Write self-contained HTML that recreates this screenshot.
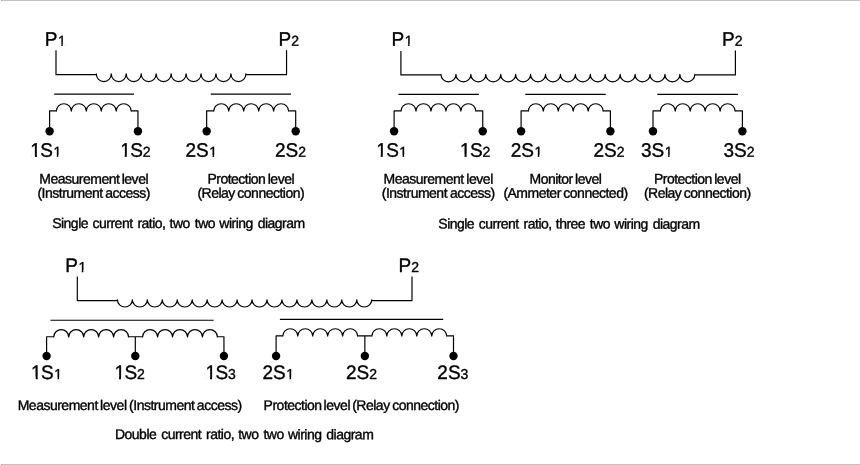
<!DOCTYPE html>
<html lang="en">
<head>
<meta charset="utf-8">
<title>Current transformer wiring diagrams</title>
<style>
html,body{margin:0;padding:0;background:#fff;}
body{width:860px;height:465px;overflow:hidden;position:relative;}
svg{display:block;position:absolute;left:0;top:0;will-change:transform;}
text{white-space:pre;font-family:"Liberation Sans",Arial,Helvetica,sans-serif;fill:#000;stroke:#000;stroke-width:0.36px;text-rendering:geometricPrecision;}
.b{font-size:19px;}
.s{font-size:14px;}
.l{font-size:14px;letter-spacing:-0.5px;}
.c{font-size:14px;letter-spacing:-0.52px;}
.w path{fill:none;stroke:#000;stroke-width:1.18;stroke-linejoin:round;}
.w path.k{stroke-width:1.25;}
</style>
</head>
<body>
<svg width="860" height="465" viewBox="0 0 860 465">
<rect x="0" y="0" width="860" height="465" fill="#fff"/>
<rect x="1" y="0" width="859" height="1" fill="#c2c2c2"/>
<rect x="1" y="464" width="859" height="1" fill="#c2c2c2"/>
<rect x="1" y="0" width="1" height="1" fill="#a0a0a0"/>
<rect x="1" y="464" width="1" height="1" fill="#a0a0a0"/>
<g class="w">
<path d="M56.0,50.2V74.7H96.3V73.80a7.480,7.8 0 0 0 14.960,0a7.480,7.8 0 0 0 14.960,0a7.480,7.8 0 0 0 14.960,0a7.480,7.8 0 0 0 14.960,0a7.480,7.8 0 0 0 14.960,0a7.480,7.8 0 0 0 14.960,0a7.480,7.8 0 0 0 14.960,0a7.480,7.8 0 0 0 14.960,0a7.480,7.8 0 0 0 14.960,0a7.480,7.8 0 0 0 14.960,0V74.7H286.55V50.2"/>
<path class="k" d="M54.25,94H134"/>
<path class="k" d="M210.75,94H291"/>
<path d="M49.6,131.2V110.85H56.375V111.05a7.480,7.3 0 0 1 14.960,0a7.480,7.3 0 0 1 14.960,0a7.480,7.3 0 0 1 14.960,0a7.480,7.3 0 0 1 14.960,0a7.480,7.3 0 0 1 14.960,0V110.85H137.95V131.2"/>
<path d="M206.65,131.2V110.85H213.775V111.05a7.480,7.3 0 0 1 14.960,0a7.480,7.3 0 0 1 14.960,0a7.480,7.3 0 0 1 14.960,0a7.480,7.3 0 0 1 14.960,0a7.480,7.3 0 0 1 14.960,0V110.85H295.7V131.2"/>
<path d="M400.9,51.0V74.9H441.0V74.45a7.465,7.4 0 0 0 14.930,0a7.465,7.4 0 0 0 14.930,0a7.465,7.4 0 0 0 14.930,0a7.465,7.4 0 0 0 14.930,0a7.465,7.4 0 0 0 14.930,0a7.465,7.4 0 0 0 14.930,0a7.465,7.4 0 0 0 14.930,0a7.465,7.4 0 0 0 14.930,0a7.465,7.4 0 0 0 14.930,0a7.465,7.4 0 0 0 14.930,0a7.465,7.4 0 0 0 14.930,0a7.465,7.4 0 0 0 14.930,0a7.465,7.4 0 0 0 14.930,0a7.465,7.4 0 0 0 14.930,0a7.465,7.4 0 0 0 14.930,0a7.465,7.4 0 0 0 14.930,0a7.465,7.4 0 0 0 14.930,0V74.9H735.4V50.4"/>
<path class="k" style="stroke-width:1.2" d="M398.4,94.45H478.9"/>
<path class="k" style="stroke-width:1.2" d="M525.3,94.45H605.7"/>
<path class="k" style="stroke-width:1.2" d="M657.3,94.45H737.9"/>
<path d="M394.1,131.2V110.85H401.025V111.05a7.480,7.3 0 0 1 14.960,0a7.480,7.3 0 0 1 14.960,0a7.480,7.3 0 0 1 14.960,0a7.480,7.3 0 0 1 14.960,0a7.480,7.3 0 0 1 14.960,0V110.85H482.75V131.2"/>
<path d="M521.1,131.2V110.85H528.350V111.05a7.480,7.3 0 0 1 14.960,0a7.480,7.3 0 0 1 14.960,0a7.480,7.3 0 0 1 14.960,0a7.480,7.3 0 0 1 14.960,0a7.480,7.3 0 0 1 14.960,0V110.85H610.4V131.2"/>
<path d="M653,131.2V110.85H660.300V111.05a7.480,7.3 0 0 1 14.960,0a7.480,7.3 0 0 1 14.960,0a7.480,7.3 0 0 1 14.960,0a7.480,7.3 0 0 1 14.960,0a7.480,7.3 0 0 1 14.960,0V110.85H742.4V131.2"/>
<path d="M77.3,276.5V300.6H117.4V299.75a7.480,7.25 0 0 0 14.960,0a7.480,7.25 0 0 0 14.960,0a7.480,7.25 0 0 0 14.960,0a7.480,7.25 0 0 0 14.960,0a7.480,7.25 0 0 0 14.960,0a7.480,7.25 0 0 0 14.960,0a7.480,7.25 0 0 0 14.960,0a7.480,7.25 0 0 0 14.960,0a7.480,7.25 0 0 0 14.960,0a7.480,7.25 0 0 0 14.960,0a7.480,7.25 0 0 0 14.960,0a7.480,7.25 0 0 0 14.960,0a7.480,7.25 0 0 0 14.960,0a7.480,7.25 0 0 0 14.960,0a7.480,7.25 0 0 0 14.960,0a7.480,7.25 0 0 0 14.960,0a7.480,7.25 0 0 0 14.960,0V300.6H412V276.5"/>
<path class="k" style="stroke-width:1.1" d="M50.4,320.25H213.7"/>
<path class="k" style="stroke-width:1.25" d="M279.9,319.3H443.2"/>
<path d="M46.6,356V336.75H53.750V336.95a7.480,7.3 0 0 1 14.960,0a7.480,7.3 0 0 1 14.960,0a7.480,7.3 0 0 1 14.960,0a7.480,7.3 0 0 1 14.960,0a7.480,7.3 0 0 1 14.960,0V336.75H142.600V336.95a7.480,7.3 0 0 1 14.960,0a7.480,7.3 0 0 1 14.960,0a7.480,7.3 0 0 1 14.960,0a7.480,7.3 0 0 1 14.960,0a7.480,7.3 0 0 1 14.960,0V336.75H223.95V356M135.3,336.75V356"/>
<path d="M276.1,356V335.85H282.800V336.05a7.480,7.3 0 0 1 14.960,0a7.480,7.3 0 0 1 14.960,0a7.480,7.3 0 0 1 14.960,0a7.480,7.3 0 0 1 14.960,0a7.480,7.3 0 0 1 14.960,0V335.85H371.900V336.05a7.480,7.3 0 0 1 14.960,0a7.480,7.3 0 0 1 14.960,0a7.480,7.3 0 0 1 14.960,0a7.480,7.3 0 0 1 14.960,0a7.480,7.3 0 0 1 14.960,0V335.85H453.5V356M364.85,335.85V356"/>
</g>
<g fill="#000">
<circle cx="49.6" cy="131.2" r="4.2"/>
<circle cx="137.95" cy="131.2" r="4.2"/>
<circle cx="206.65" cy="131.2" r="4.2"/>
<circle cx="295.7" cy="131.2" r="4.2"/>
<circle cx="394.1" cy="131.2" r="4.2"/>
<circle cx="482.75" cy="131.2" r="4.2"/>
<circle cx="521.1" cy="131.2" r="4.2"/>
<circle cx="610.4" cy="131.2" r="4.2"/>
<circle cx="653" cy="131.2" r="4.2"/>
<circle cx="742.4" cy="131.2" r="4.2"/>
<circle cx="46.6" cy="356" r="4.2"/>
<circle cx="135.3" cy="356" r="4.2"/>
<circle cx="223.95" cy="356" r="4.2"/>
<circle cx="276.1" cy="356" r="4.2"/>
<circle cx="364.85" cy="356" r="4.2"/>
<circle cx="453.5" cy="356" r="4.2"/>
</g>
<g>
<text class="b" transform="translate(44.8,45.7) rotate(0.03) scale(1,1.03)"><tspan>P</tspan><tspan class="s" dx="0.44">1</tspan></text>
<text class="b" transform="translate(278.5,45.7) rotate(0.03) scale(1,1.03)"><tspan>P</tspan><tspan class="s">2</tspan></text>
<text class="b" transform="translate(29.7,156.85) rotate(0.03) scale(1,1.03)"><tspan dx="0.60">1</tspan><tspan dx="-0.60">S</tspan><tspan class="s" dx="0.44">1</tspan></text>
<text class="b" transform="translate(119.55,156.85) rotate(0.03) scale(1,1.03)"><tspan dx="0.60">1</tspan><tspan dx="-0.60">S</tspan><tspan class="s">2</tspan></text>
<text class="b" transform="translate(185.5,156.85) rotate(0.03) scale(1,1.03)"><tspan>2</tspan><tspan>S</tspan><tspan class="s" dx="0.44">1</tspan></text>
<text class="b" transform="translate(275.0,156.85) rotate(0.03) scale(1,1.03)"><tspan>2</tspan><tspan>S</tspan><tspan class="s">2</tspan></text>
<text class="l" y="183.65" transform="rotate(0.03 95.4 183.65)"><tspan x="39.25">Measurement </tspan><tspan x="121.63" style="letter-spacing:-0.45px">level</tspan></text>
<text class="l" y="197.75" transform="rotate(0.03 86.3 197.75)"><tspan x="37.43">(Instrument </tspan><tspan x="105.22">access)</tspan></text>
<text class="l" y="183.65" transform="rotate(0.03 252.5 183.65)"><tspan x="207.39">Protection </tspan><tspan x="267.70" style="letter-spacing:-0.45px">level</tspan></text>
<text class="l" y="197.75" transform="rotate(0.03 232.4 197.75)"><tspan x="197.39">(Relay </tspan><tspan x="237.32">connection)</tspan></text>
<text class="c" y="228.0" transform="rotate(0.03 170.0 228.0)"><tspan x="52.20">Single </tspan><tspan x="92.60">current </tspan><tspan x="137.46">ratio, </tspan><tspan x="169.62">two </tspan><tspan x="194.85">two </tspan><tspan x="219.37">wiring </tspan><tspan x="257.73">diagram</tspan></text>
<text class="b" transform="translate(391.5,45.7) rotate(0.03) scale(1,1.03)"><tspan>P</tspan><tspan class="s" dx="0.44">1</tspan></text>
<text class="b" transform="translate(722.0,45.7) rotate(0.03) scale(1,1.03)"><tspan>P</tspan><tspan class="s">2</tspan></text>
<text class="b" transform="translate(375.55,156.85) rotate(0.03) scale(1,1.03)"><tspan dx="0.60">1</tspan><tspan dx="-0.60">S</tspan><tspan class="s" dx="0.44">1</tspan></text>
<text class="b" transform="translate(459.35,156.85) rotate(0.03) scale(1,1.03)"><tspan dx="0.60">1</tspan><tspan dx="-0.60">S</tspan><tspan class="s">2</tspan></text>
<text class="b" transform="translate(510.7,156.85) rotate(0.03) scale(1,1.03)"><tspan>2</tspan><tspan>S</tspan><tspan class="s" dx="0.44">1</tspan></text>
<text class="b" transform="translate(593.5,156.85) rotate(0.03) scale(1,1.03)"><tspan>2</tspan><tspan>S</tspan><tspan class="s">2</tspan></text>
<text class="b" transform="translate(641.0,156.85) rotate(0.03) scale(1,1.03)"><tspan>3</tspan><tspan>S</tspan><tspan class="s" dx="0.44">1</tspan></text>
<text class="b" transform="translate(723.5,156.85) rotate(0.03) scale(1,1.03)"><tspan>3</tspan><tspan>S</tspan><tspan class="s">2</tspan></text>
<text class="l" y="183.65" transform="rotate(0.03 440.0 183.65)"><tspan x="383.60">Measurement </tspan><tspan x="466.33" style="letter-spacing:-0.45px">level</tspan></text>
<text class="l" y="197.75" transform="rotate(0.03 430.8 197.75)"><tspan x="381.75">(Instrument </tspan><tspan x="449.92">access)</tspan></text>
<text class="l" y="183.65" transform="rotate(0.03 567.3 183.65)"><tspan x="529.52">Monitor </tspan><tspan x="574.99" style="letter-spacing:-0.45px">level</tspan></text>
<text class="l" y="197.75" transform="rotate(0.03 548.4 197.75)"><tspan x="503.39">(Ammeter </tspan><tspan x="563.33">connected)</tspan></text>
<text class="l" y="183.65" transform="rotate(0.03 699.0 183.65)"><tspan x="653.89">Protection </tspan><tspan x="714.20" style="letter-spacing:-0.45px">level</tspan></text>
<text class="l" y="197.75" transform="rotate(0.03 678.9 197.75)"><tspan x="643.89">(Relay </tspan><tspan x="683.82">connection)</tspan></text>
<text class="c" y="228.6" transform="rotate(0.03 560.5 228.6)"><tspan x="438.35">Single </tspan><tspan x="478.75">current </tspan><tspan x="523.61">ratio, </tspan><tspan x="555.77">three </tspan><tspan x="589.82">two </tspan><tspan x="614.34">wiring </tspan><tspan x="652.70">diagram</tspan></text>
<text class="b" transform="translate(65.3,272.0) rotate(0.03) scale(1,1.03)"><tspan>P</tspan><tspan class="s" dx="0.44">1</tspan></text>
<text class="b" transform="translate(398.5,272.0) rotate(0.03) scale(1,1.03)"><tspan>P</tspan><tspan class="s">2</tspan></text>
<text class="b" transform="translate(30.5,379.0) rotate(0.03) scale(1,1.03)"><tspan dx="0.60">1</tspan><tspan dx="-0.60">S</tspan><tspan class="s" dx="0.44">1</tspan></text>
<text class="b" transform="translate(113.8,379.0) rotate(0.03) scale(1,1.03)"><tspan dx="0.60">1</tspan><tspan dx="-0.60">S</tspan><tspan class="s">2</tspan></text>
<text class="b" transform="translate(204.8,379.0) rotate(0.03) scale(1,1.03)"><tspan dx="0.60">1</tspan><tspan dx="-0.60">S</tspan><tspan class="s">3</tspan></text>
<text class="b" transform="translate(262.5,379.0) rotate(0.03) scale(1,1.03)"><tspan>2</tspan><tspan>S</tspan><tspan class="s" dx="0.44">1</tspan></text>
<text class="b" transform="translate(346.0,379.0) rotate(0.03) scale(1,1.03)"><tspan>2</tspan><tspan>S</tspan><tspan class="s">2</tspan></text>
<text class="b" transform="translate(437.3,379.0) rotate(0.03) scale(1,1.03)"><tspan>2</tspan><tspan>S</tspan><tspan class="s">3</tspan></text>
<text class="l" y="410.0" transform="rotate(0.03 122.3 410.0)"><tspan x="17.70" style="letter-spacing:-0.5px">Measurement </tspan><tspan x="100.05" style="letter-spacing:-0.45px">level </tspan><tspan x="129.10">(Instrument </tspan><tspan x="196.85">access)</tspan></text>
<text class="l" y="410.0" transform="rotate(0.03 342.9 410.0)"><tspan x="263.60">Protection </tspan><tspan x="323.50" style="letter-spacing:-0.45px">level </tspan><tspan x="352.20">(Relay </tspan><tspan x="392.15">connection)</tspan></text>
<text class="c" y="439.1" transform="rotate(0.03 235.7 439.1)"><tspan x="115.00">Double </tspan><tspan x="161.20">current </tspan><tspan x="206.06">ratio, </tspan><tspan x="238.22">two </tspan><tspan x="263.45">two </tspan><tspan x="287.97">wiring </tspan><tspan x="326.33">diagram</tspan></text>
</g>
<g fill="#fff">
<rect x="58.33" y="43.82" width="2.91" height="3.18"/>
<rect x="62.86" y="43.82" width="2.80" height="3.18"/>
<rect x="31.10" y="154.59" width="3.79" height="3.56"/>
<rect x="36.95" y="154.59" width="3.64" height="3.56"/>
<rect x="53.80" y="154.97" width="2.91" height="3.18"/>
<rect x="58.33" y="154.97" width="2.80" height="3.18"/>
<rect x="120.95" y="154.59" width="3.79" height="3.56"/>
<rect x="126.80" y="154.59" width="3.64" height="3.56"/>
<rect x="209.60" y="154.97" width="2.91" height="3.18"/>
<rect x="214.13" y="154.97" width="2.80" height="3.18"/>
<rect x="405.03" y="43.82" width="2.91" height="3.18"/>
<rect x="409.56" y="43.82" width="2.80" height="3.18"/>
<rect x="376.95" y="154.59" width="3.79" height="3.56"/>
<rect x="382.80" y="154.59" width="3.64" height="3.56"/>
<rect x="399.65" y="154.97" width="2.91" height="3.18"/>
<rect x="404.18" y="154.97" width="2.80" height="3.18"/>
<rect x="460.75" y="154.59" width="3.79" height="3.56"/>
<rect x="466.60" y="154.59" width="3.64" height="3.56"/>
<rect x="534.80" y="154.97" width="2.91" height="3.18"/>
<rect x="539.33" y="154.97" width="2.80" height="3.18"/>
<rect x="665.10" y="154.97" width="2.91" height="3.18"/>
<rect x="669.63" y="154.97" width="2.80" height="3.18"/>
<rect x="78.83" y="270.12" width="2.91" height="3.18"/>
<rect x="83.36" y="270.12" width="2.80" height="3.18"/>
<rect x="31.90" y="376.74" width="3.79" height="3.56"/>
<rect x="37.75" y="376.74" width="3.64" height="3.56"/>
<rect x="54.60" y="377.12" width="2.91" height="3.18"/>
<rect x="59.13" y="377.12" width="2.80" height="3.18"/>
<rect x="115.20" y="376.74" width="3.79" height="3.56"/>
<rect x="121.05" y="376.74" width="3.64" height="3.56"/>
<rect x="206.20" y="376.74" width="3.79" height="3.56"/>
<rect x="212.05" y="376.74" width="3.64" height="3.56"/>
<rect x="286.60" y="377.12" width="2.91" height="3.18"/>
<rect x="291.13" y="377.12" width="2.80" height="3.18"/>
</g>
</svg>
</body>
</html>
